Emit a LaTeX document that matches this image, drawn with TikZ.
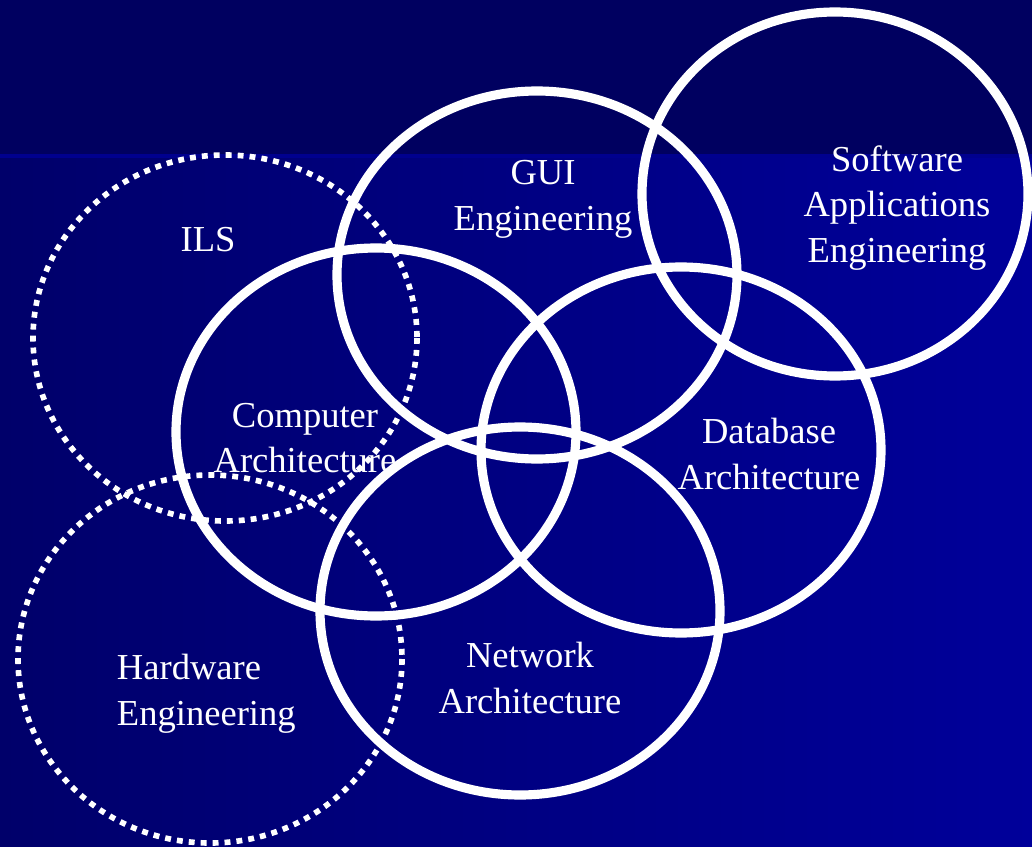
\documentclass[tikz,border=0pt]{standalone}
\usepackage{fontspec}
\setmainfont{Liberation Serif}
\definecolor{bandcol}{HTML}{000060}
\definecolor{slidelo}{HTML}{00006A}
\definecolor{slidehi}{HTML}{00009A}
\definecolor{slideline}{HTML}{00008E}

\begin{document}
\begin{tikzpicture}[x=0.025cm, y=-0.025cm,
  ring/.style={draw=white, line width=6.5pt},
  dotring/.style={draw=white, line width=4pt, dash pattern=on 4.2pt off 4.3pt},
  tag/.style={text=white, align=center, font=\fontsize{26}{32.5}\selectfont}]
  \useasboundingbox (0,0) rectangle (1032,847);
  \clip (0,0) rectangle (1032,847);
  \shade[left color=slidelo, right color=slidehi] (0,0) rectangle (1032,847);
  \fill[bandcol] (0,0) rectangle (1032,155);
  \fill[slideline] (0,154) rectangle (1032,158);

  \draw[dotring] (225,338) ellipse (192 and 183);
  \draw[dotring] (210,659) ellipse (192 and 184);
  \draw[ring] (537,275) ellipse (200 and 184);
  \draw[ring] (835,194) ellipse (193 and 182);
  \draw[ring] (376,432) ellipse (200 and 184);
  \draw[ring] (681,450) ellipse (200 and 183);
  \draw[ring] (520,611) ellipse (200 and 184);

  \node[tag] (ils) at (208,240) {ILS};
  \node[tag] (gui) at (543,199) {GUI\\Engineering};
  \node[tag] (sae) at (897,208) {Software\\Applications\\Engineering};
  \node[tag] (comp) at (305,438) {Computer\\Architecture};
  \node[tag] (db) at (769,454) {Database\\Architecture};
  \node[tag] (net) at (530,678) {Network\\Architecture};
  \node[tag, align=left, anchor=west] (hw) at (112,694) {Hardware\\Engineering};
\end{tikzpicture}
\end{document}
